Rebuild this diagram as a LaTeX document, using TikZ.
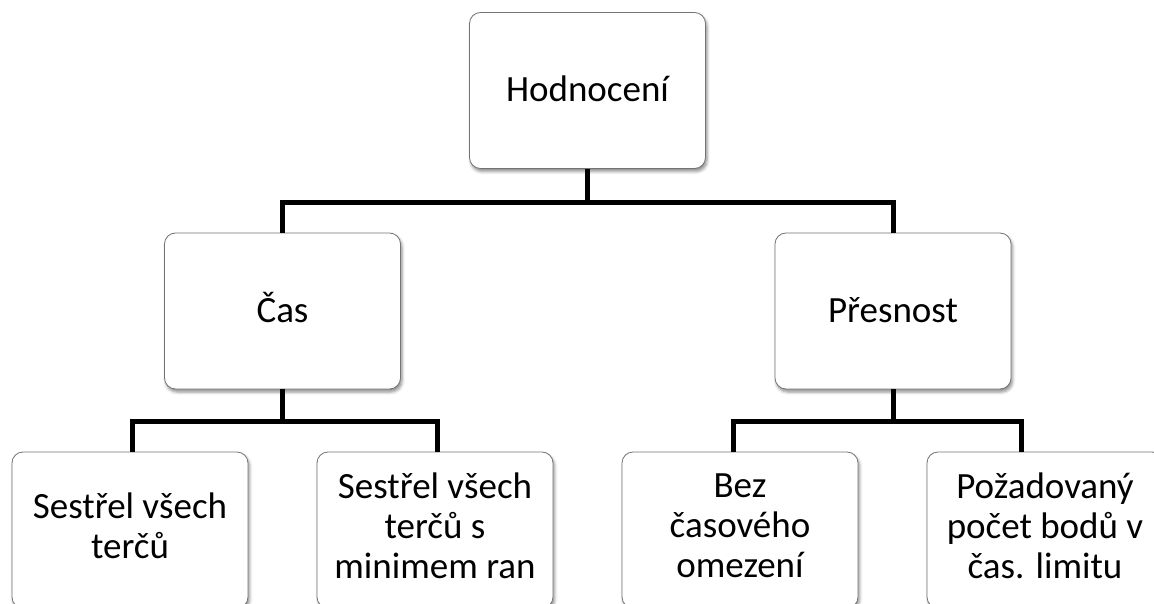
\documentclass[tikz,border=0pt]{standalone}
\usepackage{fontspec}
\setmainfont{Carlito}
\usetikzlibrary{shadows.blur}
\newcommand{\mystrut}{\rule[-8.5pt]{0pt}{40pt}}
\begin{document}
\begin{tikzpicture}[x=1pt,y=-1pt,
  box/.style={draw=black!55, line width=0.8pt, fill=white, rounded corners=11pt,
    minimum width=236pt, minimum height=156pt, inner sep=0pt, align=center,
    font=\fontsize{37}{40}\selectfont,
    execute at begin node=\mystrut, execute at end node=\mystrut,
    blur shadow={shadow xshift=1.5pt, shadow yshift=-3pt, shadow blur radius=3pt, shadow opacity=45}},
  conn/.style={draw=black, line width=5pt}]
\useasboundingbox (0,0) rectangle (1154,604);
\clip (0,0) rectangle (1154,604);
\node[box] (top) at (587.5,90.5) {Hodnocení};
\node[box] (cas) at (282.5,311) {Čas};
\node[box] (pres) at (893,311) {Přesnost};
\node[box] (s1) at (130,530) {Sestřel všech\\terčů};
\node[box] (s2) at (435,530) {Sestřel všech\\terčů s\\minimem ran};
\node[box] (bez) at (740,530) {Bez\\časového\\omezení};
\node[box] (poz) at (1045,530) {Požadovaný\\počet bodů v\\čas. limitu};
\draw[conn] (top.south) -- ++(0,33.5) coordinate (tb);
\draw[conn] (cas.north) |- (tb) -| (pres.north);
\draw[conn] (cas.south) -- ++(0,32) coordinate (cb);
\draw[conn] ([xshift=2pt]s1.north) |- (cb) -| ([xshift=2pt]s2.north);
\draw[conn] (pres.south) -- ++(0,32) coordinate (pb);
\draw[conn] ([xshift=-7pt]bez.north) |- (pb) -| ([xshift=-24pt]poz.north);
\end{tikzpicture}
\end{document}
